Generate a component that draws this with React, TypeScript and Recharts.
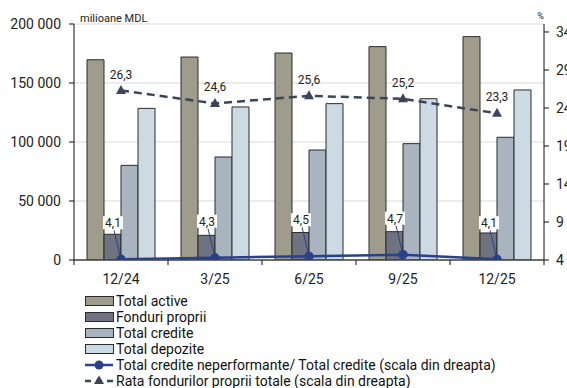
import React from "react";
import {
  ComposedChart,
  Bar,
  Line,
  XAxis,
  YAxis,
  CartesianGrid,
  Legend,
} from "recharts";

const categories = ["12/24", "3/25", "6/25", "9/25", "12/25"];
const totalActive = [169700, 172000, 175400, 180800, 189300];
const fonduriProprii = [21800, 20900, 23300, 24000, 22900];
const totalCredite = [80200, 87300, 93200, 98600, 104000];
const totalDepozite = [128500, 129700, 132500, 136700, 144100];
const nplRatio = [4.1, 4.3, 4.5, 4.7, 4.1];
const capitalRatio = [26.3, 24.6, 25.6, 25.2, 23.3];
const leftTicks = [0, 50000, 100000, 150000, 200000];
const rightTicks = [4, 9, 14, 19, 24, 29, 34];

const data = categories.map((c, i) => ({
  cat: c,
  active: totalActive[i],
  fonduri: fonduriProprii[i],
  credite: totalCredite[i],
  depozite: totalDepozite[i],
  npl: nplRatio[i],
  rata: capitalRatio[i],
}));

const W = 567;
const H = 388;
const LEFT_W = 74;
const RIGHT_W = 23;
const BAND = (W - LEFT_W - RIGHT_W) / categories.length;
const FONT = "Roboto, 'Noto Sans', sans-serif";

const C_ACTIVE = "#a09c8c";
const C_FONDURI = "#6f7381";
const C_CREDITE = "#aab4c1";
const C_DEPOZITE = "#cbdae3";
const C_NPL = "#27428a";
const C_RATA = "#3b4459";
const BORDER = "#2b2b2b";

const fmtThousands = (v: number) =>
  String(v).replace(/\B(?=(\d{3})+(?!\d))/g, " ");
const fmtComma = (v: number) => v.toFixed(1).replace(".", ",");

const XTick = (props: any) => {
  const { x, y, payload, index } = props;
  const half = BAND / 2;
  return (
    <g>
      <line x1={x - half} x2={x - half} y1={y} y2={y + 5} stroke="#333" strokeWidth={1.2} />
      {index === categories.length - 1 && (
        <line x1={x + half} x2={x + half} y1={y} y2={y + 5} stroke="#333" strokeWidth={1.2} />
      )}
      <text x={x} y={y + 24} textAnchor="middle" fontSize={14} fontFamily={FONT} fill="#222">
        {payload.value}
      </text>
    </g>
  );
};

const TriangleDot = (props: any) => {
  const { cx, cy, index } = props;
  if (cx == null || cy == null) return <g key={`t${index}`} />;
  return (
    <path
      key={`t${index}`}
      d={`M${cx},${cy - 5.5} L${cx + 5},${cy + 3.5} L${cx - 5},${cy + 3.5} Z`}
      fill={C_RATA}
    />
  );
};

const CircleDot = (props: any) => {
  const { cx, cy, index } = props;
  if (cx == null || cy == null) return <g key={`c${index}`} />;
  return <circle key={`c${index}`} cx={cx} cy={cy} r={4.7} fill={C_NPL} />;
};

const RataLabel = (props: any) => {
  const { x, y, value } = props;
  return (
    <text x={x} y={y - 12} textAnchor="middle" fontSize={12} fontFamily={FONT} fill="#222">
      {fmtComma(value)}
    </text>
  );
};

const NplLabel = (props: any) => {
  const { x, y, value } = props;
  const tx = x - 8;
  const ty = y - 36;
  return (
    <g>
      <line x1={tx + 1} y1={ty + 7} x2={x} y2={y} stroke={C_NPL} strokeWidth={1} />
      <rect x={tx - 10} y={ty - 7} width={20} height={13} fill="#fff" />
      <text x={tx} y={ty + 4} textAnchor="middle" fontSize={12} fontFamily={FONT} fill="#222">
        {fmtComma(value)}
      </text>
    </g>
  );
};

const legendItems = [
  { label: "Total active", type: "rect", color: C_ACTIVE },
  { label: "Fonduri proprii", type: "rect", color: C_FONDURI },
  { label: "Total credite", type: "rect", color: C_CREDITE },
  { label: "Total depozite", type: "rect", color: C_DEPOZITE },
  { label: "Total credite neperformante/ Total credite (scala din dreapta)", type: "npl", color: C_NPL },
  { label: "Rata fondurilor proprii totale (scala din dreapta)", type: "rata", color: C_RATA },
];

const LegendContent = () => (
  <div style={{ fontFamily: FONT, fontSize: 14, color: "#111" }}>
    {legendItems.map((it) => (
      <div key={it.label} style={{ display: "flex", alignItems: "center", height: 16, whiteSpace: "nowrap" }}>
        <svg width={30} height={16} style={{ flex: "none" }}>
          {it.type === "rect" && (
            <rect x={0.5} y={3.5} width={28} height={9} fill={it.color} stroke={BORDER} strokeWidth={1} />
          )}
          {it.type === "npl" && (
            <g>
              <line x1={0} x2={28} y1={8} y2={8} stroke={it.color} strokeWidth={2.5} />
              <circle cx={14} cy={8} r={4.5} fill={it.color} />
            </g>
          )}
          {it.type === "rata" && (
            <g>
              <line x1={0} x2={28} y1={8} y2={8} stroke={it.color} strokeWidth={2.5} strokeDasharray="6 5" />
              <path d="M14,2.5 L19,11 L9,11 Z" fill={it.color} />
            </g>
          )}
        </svg>
        <span style={{ marginLeft: 1 }}>{it.label}</span>
      </div>
    ))}
  </div>
);

export default function App() {
  return (
    <div style={{ position: "absolute", left: 0, top: 0, width: W, height: H, background: "#fff", overflow: "hidden" }}>
      <ComposedChart
        width={W}
        height={H}
        data={data}
        margin={{ top: 24, right: 0, bottom: 98, left: 0 }}
        barCategoryGap={13}
        barGap={0}
      >
        <CartesianGrid vertical={false} stroke="#d9d9d9" strokeWidth={1} yAxisId="left" />
        <XAxis
          dataKey="cat"
          height={30}
          tickSize={0}
          tickMargin={0}
          tick={<XTick />}
          interval={0}
          stroke="#444"
          strokeWidth={1.5}
        />
        <YAxis
          yAxisId="left"
          width={LEFT_W}
          domain={[0, 200000]}
          ticks={leftTicks}
          tickFormatter={fmtThousands}
          tickSize={5}
          tickMargin={8}
          stroke="#111"
          tick={{ fontSize: 14, fontFamily: FONT, fill: "#222" }}
          allowDataOverflow
          label={(p: any) => (
            <text x={80} y={22} fontSize={11} fontFamily={FONT} fill="#222">
              milioane MDL
            </text>
          )}
        />
        <YAxis
          yAxisId="right"
          orientation="right"
          width={RIGHT_W}
          domain={[4, 35.05]}
          ticks={rightTicks}
          tickSize={5}
          tickMargin={7}
          stroke="#111"
          tick={{ fontSize: 14, fontFamily: FONT, fill: "#222", textAnchor: "start" }}
          allowDataOverflow
          label={(p: any) => (
            <text x={540.5} y={19} textAnchor="middle" fontSize={9} fontFamily={FONT} fill="#222">
              %
            </text>
          )}
        />
        <Bar yAxisId="left" dataKey="active" fill={C_ACTIVE} stroke={BORDER} strokeWidth={1} isAnimationActive={false} />
        <Bar yAxisId="left" dataKey="fonduri" fill={C_FONDURI} stroke={BORDER} strokeWidth={1} isAnimationActive={false} />
        <Bar yAxisId="left" dataKey="credite" fill={C_CREDITE} stroke={BORDER} strokeWidth={1} isAnimationActive={false} />
        <Bar yAxisId="left" dataKey="depozite" fill={C_DEPOZITE} stroke={BORDER} strokeWidth={1} isAnimationActive={false} />
        <Line
          yAxisId="right"
          dataKey="rata"
          stroke={C_RATA}
          strokeWidth={2.5}
          strokeDasharray="8 5"
          dot={TriangleDot}
          label={RataLabel}
          isAnimationActive={false}
        />
        <Line
          yAxisId="right"
          dataKey="npl"
          stroke={C_NPL}
          strokeWidth={2.5}
          dot={CircleDot}
          label={NplLabel}
          isAnimationActive={false}
        />
        <Legend
          layout="vertical"
          align="center"
          verticalAlign="middle"
          content={<LegendContent />}
          wrapperStyle={{ left: 85, top: 293, width: 470 }}
        />
      </ComposedChart>
    </div>
  );
}
